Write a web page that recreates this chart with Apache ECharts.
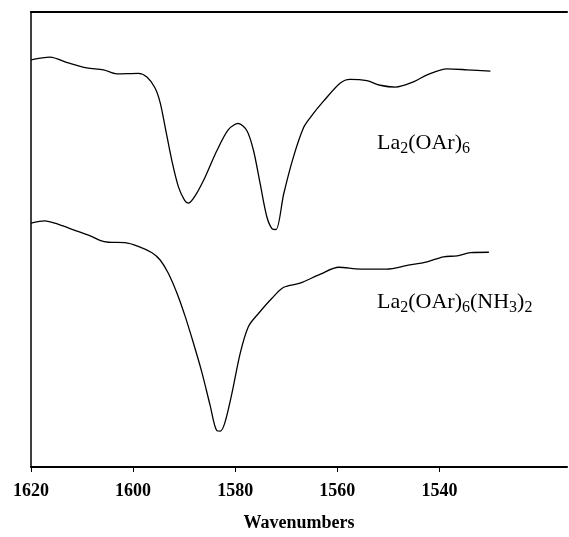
<!DOCTYPE html>
<html><head><meta charset="utf-8">
<script src="https://cdn.jsdelivr.net/npm/echarts@6/dist/echarts.min.js"></script>
<style>html,body{margin:0;padding:0;background:#fff}#c{width:569px;height:537px}</style>
</head><body><div id="c"></div>
<script>
// La2(OAr)6 spectrum (wavenumber, transmittance in arbitrary units)
const wnTop = [1620,1616.3,1612.7,1609.1,1605.8,1603.2,1599.0,1597.3,1595.7,1594.7,1593.7,1592.4,1591.1,1589.9,1589.2,1587.8,1585.9,1583.6,1581.3,1579.4,1577.7,1576.4,1575.1,1573.8,1572.8,1572.0,1570.5,1568.6,1566.6,1565.3,1562.7,1559.4,1557.5,1554.2,1551.6,1548.6,1545.0,1542.4,1538.5,1534.6,1530.0];
const tTop  = [89.5,90.1,88.8,87.7,87.3,86.4,86.5,85.7,83.3,80.1,74.6,67.3,61.5,58.6,58.0,59.7,63.7,69.5,74.2,75.5,73.9,69.5,62.2,55.0,52.4,52.2,60.0,68.1,74.6,76.8,80.4,84.4,85.2,84.9,83.9,83.5,84.7,86.2,87.5,87.3,87.0];
// La2(OAr)6(NH3)2 spectrum
const wnBot = [1620,1617.3,1614.6,1611.4,1608.4,1606.5,1604.8,1601.6,1599.0,1596.3,1594.7,1593.1,1591.4,1589.8,1588.2,1586.5,1584.9,1583.6,1582.9,1582.0,1580.6,1579.0,1577.4,1575.4,1572.8,1570.5,1567.3,1563.3,1559.7,1555.5,1550.3,1546.3,1542.4,1539.2,1536.5,1533.9,1530.3];
const tBot  = [53.6,54.1,53.3,52.0,50.8,49.8,49.4,49.3,48.5,47.1,45.5,42.6,38.2,33.1,27.3,20.7,13.5,8.0,7.9,9.8,16.4,25.1,30.9,33.8,37.1,39.5,40.4,42.4,43.9,43.5,43.5,44.3,45.1,46.2,46.4,47.1,47.2];
const tickValues = [1620,1600,1580,1560,1540];
const axisName = 'Wavenumbers';
const label1 = '{n|La}{s|2}{n|(OAr)}{s|6}';
const label2 = '{n|La}{s|2}{n|(OAr)}{s|6}{n|(NH}{s|3}{n|)}{s|2}';

const serif = '"Liberation Serif","Times New Roman",serif';
const rich = {
  n: {fontSize: 22, fontFamily: serif, color: '#000', lineHeight: 28, verticalAlign: 'middle'},
  s: {fontSize: 16, fontFamily: serif, color: '#000', lineHeight: 16, verticalAlign: 'bottom'}
};
const chart = echarts.init(document.getElementById('c'), null, {renderer: 'canvas'});
chart.setOption({
  animation: false,
  backgroundColor: '#fff',
  grid: {left: 31, top: 12, right: 2, bottom: 67, containLabel: false},
  xAxis: [{
    type: 'value', min: 1515, max: 1620, inverse: true, position: 'bottom',
    axisLine: {show: true, lineStyle: {color: '#000', width: 2}},
    axisTick: {show: true, inside: false, length: 5, customValues: tickValues, lineStyle: {color: '#000', width: 1}},
    axisLabel: {show: true, customValues: tickValues, margin: 15, color: '#000', fontFamily: serif, fontWeight: 'bold', fontSize: 18,
      formatter: v => String(v)},
    splitLine: {show: false},
    name: axisName, nameLocation: 'middle', nameGap: 47,
    nameTextStyle: {color: '#000', fontFamily: serif, fontWeight: 'bold', fontSize: 18}
  }, {
    type: 'value', min: 1515, max: 1620, inverse: true, position: 'top',
    axisLine: {show: true, onZero: false, lineStyle: {color: '#000', width: 2}},
    axisTick: {show: false}, axisLabel: {show: false}, splitLine: {show: false}
  }],
  yAxis: {
    type: 'value', min: 0, max: 100,
    axisLine: {show: true, lineStyle: {color: '#000', width: 1.5}},
    axisTick: {show: false}, axisLabel: {show: false}, splitLine: {show: false}
  },
  series: [{
    type: 'line', name: 'La2(OAr)6', data: wnTop.map((w, i) => [w, tTop[i]]),
    showSymbol: false, smooth: 0.3, lineStyle: {color: '#000', width: 1.3}
  }, {
    type: 'line', name: 'La2(OAr)6(NH3)2', data: wnBot.map((w, i) => [w, tBot[i]]),
    showSymbol: false, smooth: 0.3, lineStyle: {color: '#000', width: 1.3}
  }],
  graphic: [
    {type: 'text', left: 377, top: 132, style: {text: label1, rich: rich}},
    {type: 'text', left: 377, top: 291, style: {text: label2, rich: rich}}
  ]
});
</script></body></html>
